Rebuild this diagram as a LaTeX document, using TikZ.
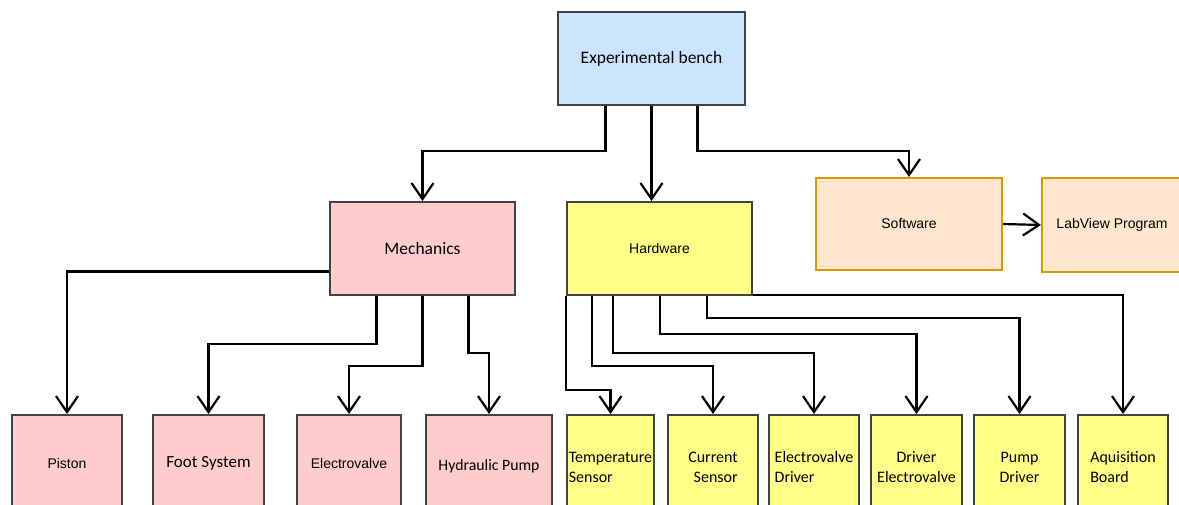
\documentclass[tikz,border=0pt]{standalone}
\usepackage{fontspec}
\setmainfont{Carlito}
\newfontfamily\arialfont{Liberation Sans}
\usetikzlibrary{arrows.meta}
\usetikzlibrary{positioning}
\definecolor{benchblue}{HTML}{CCE5FF}
\definecolor{mechpink}{HTML}{FFCCCC}
\definecolor{hwyellow}{HTML}{FFFF88}
\definecolor{sworange}{HTML}{FFE6CC}
\definecolor{swborder}{HTML}{D79B00}
\definecolor{boxborder}{HTML}{404346}
\tikzstyle{block} = [rectangle, inner sep=0pt, text centered, line width=2pt, draw=boxborder, font=\fontsize{17.5}{21}\selectfont]
\tikzstyle{mechbox} = [block, fill=mechpink, anchor=north, minimum height=96pt]
\tikzstyle{hwbox} = [block, fill=hwyellow, anchor=north, minimum height=104pt, font=\fontsize{16}{20}\selectfont]
\tikzstyle{swbox} = [block, fill=sworange, draw=swborder, font=\arialfont\fontsize{14}{17}\selectfont]
\tikzstyle{link} = [line width=2.2pt, -{Straight Barb[length=16pt,width=22pt]}]

\begin{document}
\begin{tikzpicture}[x=1pt, y=-1pt]
  \useasboundingbox (0,0) rectangle (1179,505);

  % top level
  \node (bench) [block, fill=benchblue, minimum width=187pt, minimum height=93pt] at (651.5,58.5) {Experimental bench};

  \node (mech) [block, fill=mechpink, minimum width=185pt, minimum height=93pt] at (422.5,248.5) {Mechanics};
  \node (hw) [block, fill=hwyellow, minimum width=185pt, minimum height=93pt, font=\arialfont\fontsize{14}{17}\selectfont] at (659.5,248.5) {Hardware};
  \node (sw) [swbox, minimum width=186pt, minimum height=92pt] at (909,224) {Software};
  \node (lv) [swbox, minimum width=140pt, minimum height=94pt] at (1112,225) {LabView Program};

  % mechanics parts
  \node (piston) [mechbox, minimum width=110pt, font=\arialfont\fontsize{14}{17}\selectfont] at (67,414) {Piston};
  \node (foot) [mechbox, minimum width=111pt, font=\fontsize{17}{20}\selectfont] at (208.5,414) {Foot System};
  \node (valve) [mechbox, minimum width=104pt, font=\arialfont\fontsize{14}{17}\selectfont] at (349,414) {Electrovalve};
  \node (pump) [mechbox, minimum width=126pt, minimum height=102pt, font=\fontsize{15.8}{19}\selectfont] at (489,414) {Hydraulic Pump};

  % hardware parts
  \node (temp) [hwbox, minimum width=87pt, align=left] at (610.5,414) {Temperature\\ Sensor};
  \node (curr) [hwbox, minimum width=90pt, align=right] at (713,414) {Current\\ Sensor};
  \node (vdrv) [hwbox, minimum width=90pt, align=left] at (814,414) {Electrovalve\\ Driver};
  \node (drvv) [hwbox, minimum width=91pt, align=center] at (916.5,414) {Driver\\Electrovalve};
  \node (pdrv) [hwbox, minimum width=91pt, align=center] at (1019.5,414) {Pump\\ Driver};
  \node (acq) [hwbox, minimum width=90pt, align=left] at (1123,414) {Aquisition\\ Board};

  % connectors
  \draw[link] ([xshift=-46pt]bench.south) -- ++(0,45) -| (mech.north);
  \draw[link] (bench.south) -- (bench.south |- hw.north);
  \draw[link] ([xshift=46pt]bench.south) -- ++(0,45) -| (sw.north);
  \draw[link] (sw.east) -- (lv.west);

  \draw[link] ([yshift=-23pt]mech.west) -| (piston.north);
  \draw[link] ([xshift=-46pt]mech.south) -- ++(0,48) -| (foot.north);
  \draw[link] (mech.south) -- ++(0,70) -| (valve.north);
  \draw[link] ([xshift=46pt]mech.south) -- ++(0,57) -| (pump.north);

  \draw[link] (hw.south west) -- ++(0,94) -| (temp.north);
  \draw[link] ([xshift=26pt]hw.south west) -- ++(0,70) -| (curr.north);
  \draw[link] ([xshift=47pt]hw.south west) -- ++(0,57) -| (vdrv.north);
  \draw[link] ([xshift=94pt]hw.south west) -- ++(0,38) -| (drvv.north);
  \draw[link] ([xshift=141pt]hw.south west) -- ++(0,22) -| (pdrv.north);
  \draw[link] ([yshift=1pt]hw.south east) -| (acq.north);
\end{tikzpicture}
\end{document}
